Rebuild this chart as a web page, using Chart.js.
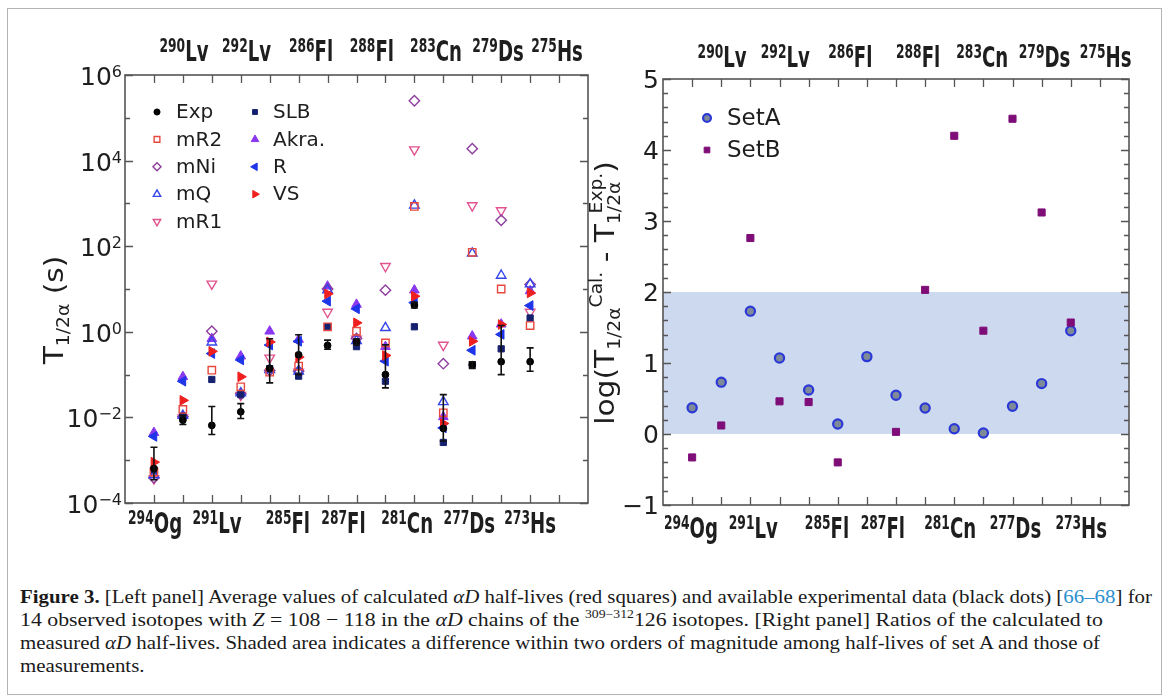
<!DOCTYPE html>
<html>
<head>
<meta charset="utf-8">
<script src="https://cdn.jsdelivr.net/npm/chart.js@4/dist/chart.umd.min.js"></script>
<style>
  html, body { margin: 0; padding: 0; background: #fff; width: 1171px; height: 699px; overflow: hidden; }
  #frame { position: absolute; left: 7px; top: 8px; width: 1155px; height: 687px; border: 1px solid #b4b4b4; box-sizing: border-box; }
  .pane { position: absolute; top: 0; }
  .cap { position: absolute; left: 20px; font-family: "Liberation Serif", "DejaVu Serif", serif; font-size: 19px; line-height: 20px;
         white-space: nowrap; transform-origin: 0 50%; color: #1a1a1a; }
  .cap sup { font-size: 12px; line-height: 0; vertical-align: 8px; }
  .ref { color: #2b8fd0; }
</style>
</head>
<body>
<div id="frame"></div>
<div class="pane" style="left:0;width:600px;height:560px"><canvas id="halfLives" width="600" height="560"></canvas></div>
<div class="pane" style="left:580px;width:591px;height:560px"><canvas id="ratios" width="591" height="560"></canvas></div>

<div class="cap" id="cap1" style="top:587px"><b>Figure 3.</b> [Left panel] Average values of calculated <i>αD</i> half-lives (red squares) and available experimental data (black dots) [<span class="ref">66–68</span>] for</div>
<div class="cap" id="cap2" style="top:610px">14 observed isotopes with <i>Z</i> = 108 − 118 in the <i>αD</i> chains of the <sup>309−312</sup>126 isotopes. [Right panel] Ratios of the calculated to</div>
<div class="cap" id="cap3" style="top:633px">measured <i>αD</i> half-lives. Shaded area indicates a difference within two orders of magnitude among half-lives of set A and those of</div>
<div class="cap" id="cap4" style="top:656px">measurements.</div>

<script>
// ---- isotopes along the alpha-decay chains (x = 1..14) ----
const isotopes = ['294Og', '290Lv', '291Lv', '292Lv', '285Fl', '286Fl', '287Fl',
                  '288Fl', '281Cn', '283Cn', '277Ds', '279Ds', '273Hs', '275Hs'];

// ---- alpha-decay half-lives T1/2 (s) ----
const expT  = [6.4e-4, 0.0086, 0.0065, 0.0135, 0.14, 0.29, 0.48, 0.58, 0.10, 4.2, 0.0055, 0.17, 0.20, 0.20];
const expHi = [2.0e-3, 0.011,  0.018,  0.021,  0.69, 0.85, 0.64, 0.68, 0.50, 4.9, 0.034,  0.20, 1.40, 0.42];
const expLo = [3.5e-4, 0.0068, 0.004,  0.0094, 0.064, 0.10, 0.39, 0.50, 0.049, 3.6, 0.0028, 0.14, 0.10, 0.12];
const mR2   = [5.3e-4, 0.0153, 0.127, 0.052, 0.114, 0.158, 1.31, 1.03, 0.55, 850,   0.0128, 72,    10,  1.4];
const mNi   = [3.9e-4, 0.0103, 1.03,  0.035, 0.125, 0.12,  10,   0.70, 9.4,  2.5e5, 0.18,   1.9e4, 405, 12.7];
const mQ    = [4.5e-4, 0.011,  0.57,  0.037, 0.13,  0.12,  9.5,  0.62, 1.24, 900,   0.023,  68,    20.7, 13];
const mR1   = [3.7e-4, 0.0098, 13.2,  0.033, 0.246, 0.115, 2.9,  0.68, 34,   1.8e4, 0.49,   890,   680, 2.9];
const slb   = [6.0e-4, 0.0107, 0.077, 0.034, 0.138, 0.092, 1.31, 0.45, 0.07, 1.31,  0.0026, 0.17,  0.40, 2.1];
const akra  = [4.4e-3, 0.089,  0.69,  0.27,  1.03,  0.66,  11.6, 4.35, 0.45, 9.4,   0.0103, 0.79,  1.5, 9.0];
const royer = [3.6e-3, 0.070,  0.31,  0.22,  0.49,  0.60,  5.2,  3.45, 0.206, 4.8,  0.0057, 0.37,  0.87, 4.1];
const vs    = [9.0e-4, 0.025,  0.35,  0.089, 0.58,  0.255, 7.7,  1.62, 0.28, 6.8,   0.0072, 0.60,  1.48, 8.1];

// ---- log ratio of calculated to measured half-lives (null: no value) ----
const setA = [0.37, 0.73, 1.73, 1.07, 0.62, 0.14, 1.09, 0.545, 0.366, 0.075, 0.014, 0.39, 0.71, 1.455];
const setB = [-0.33, 0.12, 2.76, 0.46, 0.45, -0.40, null, 0.03, 2.03, 4.20, 1.455, 4.44, 3.12, 1.57];

// ---- axis ticks ----
const decadeTicks = [-4, -3, -2, -1, 0, 1, 2, 3, 4, 5, 6];
const decadeLabels = [-4, -2, 0, 2, 4, 6];
const ratioTicks = [-1, 0, 1, 2, 3, 4, 5];
const chainTicks = [1, 2, 3, 4, 5, 6, 7, 8, 9, 10, 11, 12, 13, 14, 15];
const bandRange = [0, 2];

// ---- layout of the isotope names (axis units), drawn above and below each panel ----
const nameSlots = {
  halfLives: { bottom: [1.04, 3.18, 5.63, 7.55, 9.75, 11.9, 14.0], top: [2.04, 4.2, 6.43, 8.53, 10.75, 12.89, 14.93],
               bottomBase: 533, bottomSup: 524, topBase: 61, topSup: 52 },
  ratios:    { bottom: [0.96, 3.1, 5.63, 7.55, 9.86, 12.1, 14.36], top: [2.03, 4.2, 6.43, 8.76, 10.96, 13.1, 15.2],
               bottomBase: 538, bottomSup: 529, topBase: 67, topSup: 58 }
};

const TICK_FONT = '25px "DejaVu Sans", sans-serif';
const TICK_SUP = '16px "DejaVu Sans", sans-serif';
const NAME_FONT = 'bold 28px "DejaVu Sans Condensed", "DejaVu Sans", sans-serif';
const NAME_SUP = 'bold 19px "DejaVu Sans Condensed", "DejaVu Sans", sans-serif';
const NAME_SQUEEZE = 0.72;
const TITLE_STRETCH = 1.1;
const AXIS_COLOR = '#555';
const TEXT_COLOR = '#1e1e1e';

const points = v => v.map((y, i) => ({ x: i + 1, y })).filter(p => p.y !== null);

const halfLifeSeries = [
  { label: 'Exp',   values: expT,  style: 'circle',   rot: 0,   r: 3.4, fill: '#000000', line: '#000000', bw: 1,   order: 0 },
  { label: 'mR2',   values: mR2,   style: 'rect',     rot: 0,   r: 5.2, fill: 'rgba(0,0,0,0)', line: '#e8473e', bw: 1.4, order: 1 },
  { label: 'mNi',   values: mNi,   style: 'rectRot',  rot: 0,   r: 5.2, fill: 'rgba(0,0,0,0)', line: '#8d3f9d', bw: 1.4, order: 6 },
  { label: 'mQ',    values: mQ,    style: 'triangle', rot: 0,   r: 5.5, fill: 'rgba(0,0,0,0)', line: '#3545ea', bw: 1.4, order: 5 },
  { label: 'mR1',   values: mR1,   style: 'triangle', rot: 180, r: 5.5, fill: 'rgba(0,0,0,0)', line: '#e2538f', bw: 1.4, order: 7 },
  { label: 'SLB',   values: slb,   style: 'rect',     rot: 0,   r: 4.4, fill: '#15216f', line: '#15216f', bw: 1,   order: 2 },
  { label: 'Akra.', values: akra,  style: 'triangle', rot: 0,   r: 5.6, fill: '#8a37f0', line: '#8a37f0', bw: 1,   order: 8 },
  { label: 'R',     values: royer, style: 'triangle', rot: 270, r: 5.6, fill: '#1f35ea', line: '#1f35ea', bw: 1,   order: 4 },
  { label: 'VS',    values: vs,    style: 'triangle', rot: 90,  r: 5.6, fill: '#f01f1f', line: '#f01f1f', bw: 1,   order: 3 }
];

const ratioSeries = [
  { label: 'SetA', values: setA, style: 'circle', rot: 0, r: 4.6, fill: '#7e8a97', line: '#2b38d8', bw: 2.2, order: 1 },
  { label: 'SetB', values: setB, style: 'rect',   rot: 0, r: 5,   fill: '#7e0d78', line: '#7e0d78', bw: 1,   order: 0 }
];

function toDataset(s) {
  return {
    label: s.label, data: points(s.values), order: s.order,
    pointStyle: s.style, rotation: s.rot, pointRadius: s.r,
    pointBackgroundColor: s.fill, pointBorderColor: s.line, pointBorderWidth: s.bw,
    showLine: false
  };
}

// text made of runs: {t, font, dy (baseline shift), adv (fraction of width advanced)}
function runsWidth(ctx, runs) {
  let w = 0;
  for (const r of runs) { ctx.font = r.font; r.w = ctx.measureText(r.t).width; w += r.w * (r.adv ?? 1); }
  return w;
}
function drawRuns(ctx, runs, x, y) {
  ctx.textAlign = 'left';
  ctx.textBaseline = 'alphabetic';
  for (const r of runs) { ctx.font = r.font; ctx.fillText(r.t, x, y + (r.dy || 0)); x += r.w * (r.adv ?? 1); }
}

// vertical axis title centred at (cx, cy), reading bottom to top
function drawVerticalTitle(ctx, runs, cx, cy) {
  ctx.save();
  ctx.translate(cx, cy);
  ctx.rotate(-Math.PI / 2);
  ctx.scale(TITLE_STRETCH, 1);
  const tw = runsWidth(ctx, runs);
  drawRuns(ctx, runs, -tw / 2, 0);
  ctx.restore();
}

function drawIsotope(ctx, name, cx, base, supBase) {
  const m = name.match(/^(\d+)(\D+)$/);
  const runs = [{ t: m[1], font: NAME_SUP, dy: supBase - base }, { t: m[2], font: NAME_FONT }];
  const w = runsWidth(ctx, runs);
  ctx.save();
  ctx.translate(cx, base);
  ctx.scale(NAME_SQUEEZE, 1);
  drawRuns(ctx, runs, -w / 2, 0);
  ctx.restore();
}

function drawFrameAndChainTicks(ctx, a, x) {
  ctx.strokeStyle = AXIS_COLOR;
  ctx.lineWidth = 1.6;
  ctx.strokeRect(a.left, a.top, a.right - a.left, a.bottom - a.top);
  ctx.lineWidth = 1.3;
  ctx.beginPath();
  for (const t of chainTicks) {
    const px = Math.round(x.getPixelForValue(t)) + 0.5;
    ctx.moveTo(px, a.bottom); ctx.lineTo(px, a.bottom - 8);
    ctx.moveTo(px, a.top); ctx.lineTo(px, a.top + 8);
  }
  ctx.stroke();
}

function drawNames(ctx, chart, slots) {
  const x = chart.scales.x;
  ctx.fillStyle = TEXT_COLOR;
  isotopes.forEach((name, i) => {
    const k = Math.floor(i / 2);
    if (i % 2 === 0) drawIsotope(ctx, name, x.getPixelForValue(slots.bottom[k]), slots.bottomBase, slots.bottomSup);
    else drawIsotope(ctx, name, x.getPixelForValue(slots.top[k]), slots.topBase, slots.topSup);
  });
}

function legendMarker(ctx, s, px, py, scale) {
  ctx.save();
  ctx.fillStyle = s.fill; ctx.strokeStyle = s.line; ctx.lineWidth = s.bw;
  Chart.helpers.drawPoint(ctx, { pointStyle: s.style, rotation: s.rot, radius: s.r * scale, borderWidth: s.bw }, px, py);
  ctx.restore();
}

const halfLifeDecor = {
  id: 'halfLifeDecor',
  afterDatasetsDraw(chart) {
    const { ctx, chartArea: a, scales: { x, y } } = chart;
    ctx.save();
    // experimental uncertainties
    ctx.strokeStyle = '#111'; ctx.lineWidth = 1.6;
    ctx.beginPath();
    expT.forEach((v, i) => {
      const px = x.getPixelForValue(i + 1);
      const hi = y.getPixelForValue(expHi[i]), lo = y.getPixelForValue(expLo[i]);
      ctx.moveTo(px, hi); ctx.lineTo(px, lo);
      ctx.moveTo(px - 3.5, hi); ctx.lineTo(px + 3.5, hi);
      ctx.moveTo(px - 3.5, lo); ctx.lineTo(px + 3.5, lo);
    });
    ctx.stroke();

    drawFrameAndChainTicks(ctx, a, x);
    // decade ticks on both sides
    ctx.strokeStyle = AXIS_COLOR; ctx.lineWidth = 1.3;
    ctx.beginPath();
    for (const e of decadeTicks) {
      const py = Math.round(y.getPixelForValue(Math.pow(10, e))) + 0.5;
      const len = e % 2 === 0 ? 8 : 5;
      ctx.moveTo(a.left, py); ctx.lineTo(a.left + len, py);
      ctx.moveTo(a.right, py); ctx.lineTo(a.right - len, py);
    }
    ctx.stroke();

    // decade labels 10^n
    ctx.fillStyle = TEXT_COLOR;
    for (const e of decadeLabels) {
      const py = y.getPixelForValue(Math.pow(10, e));
      const runs = [{ t: '10', font: TICK_FONT }, { t: e < 0 ? '\u2212' + (-e) : String(e), font: TICK_SUP, dy: -8 }];
      const w = runsWidth(ctx, runs);
      drawRuns(ctx, runs, a.left - 3 - w, py + 10);
    }

    drawNames(ctx, chart, nameSlots.halfLives);

    // axis title T_1/2α (s)
    drawVerticalTitle(ctx, [
      { t: 'T', font: '27px "DejaVu Sans", sans-serif' },
      { t: '1/2\u03b1', font: '17px "DejaVu Sans", sans-serif', dy: 6 },
      { t: ' (s)', font: '27px "DejaVu Sans", sans-serif' }
    ], 63, 310);

    // legend, two columns
    const cols = [{ mx: 157, tx: 176, items: halfLifeSeries.slice(0, 5) }, { mx: 255, tx: 273, items: halfLifeSeries.slice(5) }];
    for (const c of cols) {
      c.items.forEach((s, k) => {
        const ly = 112 + 27.4 * k;
        legendMarker(ctx, s, c.mx, ly, s.style === 'circle' ? 0.9 : 0.78);
        ctx.fillStyle = TEXT_COLOR; ctx.font = '20px "DejaVu Sans", sans-serif';
        ctx.textAlign = 'left'; ctx.textBaseline = 'middle';
        ctx.fillText(s.label, c.tx, ly + 1);
      });
    }
    ctx.restore();
  }
};

const ratioDecor = {
  id: 'ratioDecor',
  beforeDatasetsDraw(chart) {
    const { ctx, chartArea: a, scales: { y } } = chart;
    const y0 = y.getPixelForValue(bandRange[0]), y1 = y.getPixelForValue(bandRange[1]);
    ctx.save();
    ctx.fillStyle = '#cdd9ee';
    ctx.fillRect(a.left, y1, a.right - a.left, y0 - y1);
    ctx.restore();
  },
  afterDatasetsDraw(chart) {
    const { ctx, chartArea: a, scales: { x, y } } = chart;
    ctx.save();
    drawFrameAndChainTicks(ctx, a, x);
    ctx.strokeStyle = AXIS_COLOR; ctx.lineWidth = 1.3;
    ctx.beginPath();
    for (let v = ratioTicks[0]; v <= ratioTicks[ratioTicks.length - 1] + 1e-9; v += 0.2) {
      const major = Math.abs(v - Math.round(v)) < 1e-6;
      const py = Math.round(y.getPixelForValue(v)) + 0.5;
      const len = major ? 8 : 5;
      ctx.moveTo(a.left, py); ctx.lineTo(a.left + len, py);
      ctx.moveTo(a.right, py); ctx.lineTo(a.right - len, py);
    }
    ctx.stroke();

    ctx.fillStyle = TEXT_COLOR;
    ctx.font = TICK_FONT;
    ctx.textAlign = 'right'; ctx.textBaseline = 'alphabetic';
    for (const v of ratioTicks) {
      ctx.fillText(v < 0 ? '\u2212' + (-v) : String(v), a.left - 4, y.getPixelForValue(v) + 9);
    }

    drawNames(ctx, chart, nameSlots.ratios);

    // axis title log(T^Cal - T^Exp)
    const big = '27px "DejaVu Sans", sans-serif', small = '17px "DejaVu Sans", sans-serif';
    drawVerticalTitle(ctx, [
      { t: 'log(T', font: big },
      { t: '1/2\u03b1', font: small, dy: 6 },
      { t: 'Cal.', font: small, dy: -12 },
      { t: ' - T', font: big },
      { t: '1/2\u03b1', font: small, dy: 6, adv: 0.25 },
      { t: 'Exp.', font: small, dy: -12 },
      { t: ')', font: big }
    ], 34, 293);

    // legend
    ratioSeries.forEach((s, k) => {
      const ly = 118 + 32 * k;
      legendMarker(ctx, s, 127, ly, s.style === 'circle' ? 0.85 : 0.8);
      ctx.fillStyle = TEXT_COLOR; ctx.font = '23px "DejaVu Sans", sans-serif';
      ctx.textAlign = 'left'; ctx.textBaseline = 'middle';
      ctx.fillText(s.label, 147, ly + 1);
    });
    ctx.restore();
  }
};

const common = {
  responsive: false, animation: false, events: [],
  plugins: { legend: { display: false }, tooltip: { enabled: false } }
};

new Chart(document.getElementById('halfLives'), {
  type: 'scatter',
  data: { datasets: halfLifeSeries.map(toDataset) },
  options: Object.assign({}, common, {
    layout: { padding: { left: 125, top: 75, right: 12, bottom: 57 } },
    scales: {
      x: { type: 'linear', min: 0, max: 16, display: false },
      y: { type: 'logarithmic', min: 1e-4, max: 1e6, display: false }
    }
  }),
  plugins: [halfLifeDecor]
});

new Chart(document.getElementById('ratios'), {
  type: 'scatter',
  data: { datasets: ratioSeries.map(toDataset) },
  options: Object.assign({}, common, {
    layout: { padding: { left: 83, top: 79, right: 42, bottom: 55 } },
    scales: {
      x: { type: 'linear', min: 0, max: 16, display: false },
      y: { type: 'linear', min: -1, max: 5, display: false }
    }
  }),
  plugins: [ratioDecor]
});

// fit caption lines to their column width
const capWidths = { cap1: 1132, cap2: 1083, cap3: 1080 };
let lastScale = 1;
for (const id of ['cap1', 'cap2', 'cap3', 'cap4']) {
  const el = document.getElementById(id);
  const s = capWidths[id] ? capWidths[id] / el.getBoundingClientRect().width : lastScale;
  el.style.transform = 'scaleX(' + s.toFixed(4) + ')';
  lastScale = s;
}
</script>
</body>
</html>
